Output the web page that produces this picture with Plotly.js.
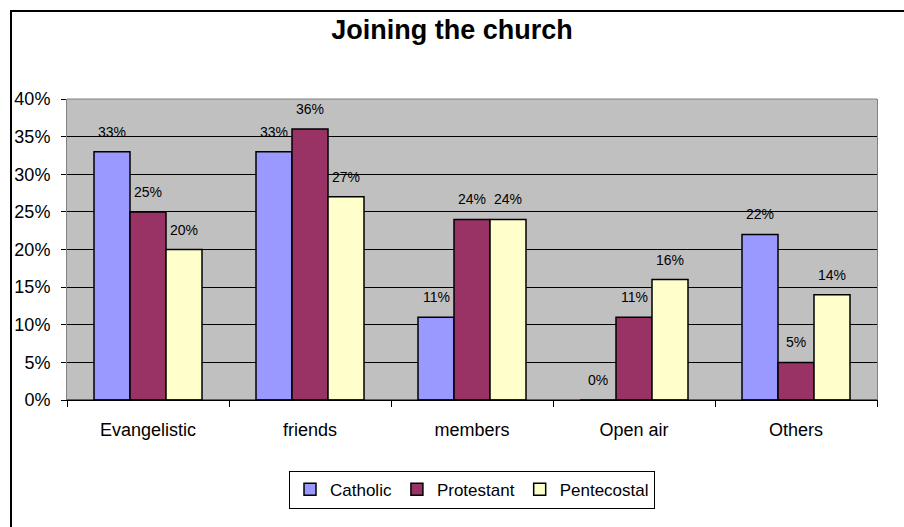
<!DOCTYPE html>
<html>
<head>
<meta charset="utf-8">
<script src="https://cdn.plot.ly/plotly-3.0.1.min.js"></script>
<style>
html,body{margin:0;padding:0;background:#fff;overflow:hidden;}
#chart{width:904px;height:527px;position:absolute;left:0;top:0;}
#frame{position:absolute;left:10px;top:10px;width:1000px;height:1000px;border-top:2px solid #000;border-left:2px solid #000;pointer-events:none;}
</style>
</head>
<body>
<div id="chart"></div>
<div id="frame"></div>
<script>
var categories = ["Evangelistic", "friends", "members", "Open air", "Others"];
var seriesNames = ["Catholic", "Protestant", "Pentecostal"];
var catholic = [33, 33, 11, 0, 22];
var protestant = [25, 36, 24, 11, 5];
var pentecostal = [20, 27, 24, 16, 14];
var yTicks = [0, 5, 10, 15, 20, 25, 30, 35, 40];
var yTickLabels = ["0%", "5%", "10%", "15%", "20%", "25%", "30%", "35%", "40%"];

var colors = ["#9999FF", "#993366", "#FFFFCC"];
var allSeries = [catholic, protestant, pentecostal];
var FONT = "Arial, 'Liberation Sans', sans-serif";

var traces = allSeries.map(function(vals, i){
  return {
    type: "bar",
    name: seriesNames[i],
    x: categories,
    y: vals,
    offsetgroup: String(i),
    marker: {color: colors[i], line: {color: "#000", width: 1.5}},
    hoverinfo: "none"
  };
});

// data labels as annotations, shifted above bar top
var annotations = [];
var nS = allSeries.length;
var groupFrac = 1 - 1/3; // 1 - bargap
allSeries.forEach(function(vals, si){
  vals.forEach(function(v, ci){
    var off = -groupFrac/2 + groupFrac/nS*(si + 0.5);
    annotations.push({
      xref: "x", yref: "y",
      x: ci + off, y: v,
      text: v + "%",
      showarrow: false,
      yanchor: "middle",
      yshift: 20,
      font: {family: FONT, size: 14, color: "#000"}
    });
  });
});

var layout = {
  width: 904, height: 527,
  margin: {l: 67, r: 27, t: 99, b: 127, pad: 0},
  paper_bgcolor: "#fff",
  plot_bgcolor: "#C0C0C0",
  font: {family: FONT, color: "#000"},
  title: {
    text: "<b>Joining the church</b>",
    font: {family: FONT, size: 27, color: "#000"},
    x: 0.5, xanchor: "center",
    y: 1 - 30/527, yref: "container", yanchor: "middle"
  },
  barmode: "group",
  bargap: 1/3,
  bargroupgap: 0,
  showlegend: true,
  legend: {
    orientation: "h",
    x: 0.5, xanchor: "center",
    y: -0.235, yanchor: "top",
    bordercolor: "#000", borderwidth: 1,
    bgcolor: "#fff",
    font: {family: FONT, size: 17, color: "#000"},
    itemclick: false, itemdoubleclick: false
  },
  xaxis: {
    type: "category",
    tickson: "boundaries",
    ticks: "outside", ticklen: 6, tickcolor: "#000", tickwidth: 1,
    showline: true, linecolor: "#000", linewidth: 1, mirror: false,
    showgrid: false, zeroline: false,
    tickfont: {family: FONT, size: 18, color: "#000"},
    ticklabelstandoff: 13,
    fixedrange: true
  },
  yaxis: {
    range: [0, 40],
    tickvals: yTicks, ticktext: yTickLabels,
    ticks: "outside", ticklen: 5, tickcolor: "#000", tickwidth: 1,
    showline: true, linecolor: "#808080", linewidth: 1, mirror: true,
    showgrid: true, gridcolor: "#000", gridwidth: 1,
    zeroline: false,
    tickfont: {family: FONT, size: 18, color: "#000"},
    ticklabelstandoff: 7,
    fixedrange: true
  },
  shapes: [
    {type: "line", xref: "paper", yref: "paper", x0: 0, x1: 1, y0: 1, y1: 1, line: {color: "#808080", width: 1}},
    {type: "line", xref: "paper", yref: "paper", x0: 0, x1: 1, y0: 0, y1: 0, line: {color: "#000", width: 1}}
  ],
  annotations: annotations
};

Plotly.newPlot("chart", traces, layout, {staticPlot: true, displayModeBar: false});
</script>
</body>
</html>
